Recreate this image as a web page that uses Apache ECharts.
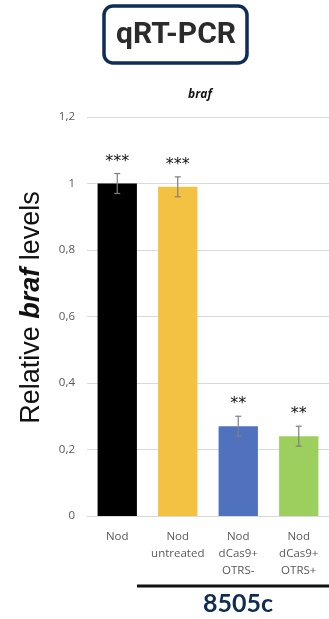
<!DOCTYPE html>
<html>
<head>
<meta charset="utf-8">
<script src="https://cdn.jsdelivr.net/npm/echarts@6/dist/echarts.min.js"></script>
<style>
  html, body { margin: 0; padding: 0; background: #fff; }
  #chart { width: 329px; height: 619px; }
</style>
</head>
<body>
<div id="chart"></div>
<script>
// Relative braf expression (qRT-PCR)
const categories = ['Nod', 'Nod\nuntreated', 'Nod\ndCas9+\nOTRS-', 'Nod\ndCas9+\nOTRS+'];
const values = [1.0, 0.99, 0.27, 0.24];
const errors = [0.03, 0.03, 0.03, 0.03];
const significance = ['***', '***', '**', '**'];
const barColors = ['#000000', '#f4c242', '#4f71be', '#9dcf5f'];
const yTicks = [0, 0.2, 0.4, 0.6, 0.8, 1, 1.2];

const chart = echarts.init(document.getElementById('chart'));

const fmt = v => String(Math.round(v * 10) / 10).replace('.', ',');

chart.setOption({
  animation: false,
  title: {
    text: 'braf',
    left: 195, top: 84,
    textAlign: 'center',
    textStyle: { fontFamily: 'Open Sans', fontStyle: 'italic', fontWeight: 'bold', fontSize: 12, color: '#111' }
  },
  grid: { left: 87, top: 117, width: 249, height: 399 },
  xAxis: {
    type: 'category',
    data: categories,
    axisLine: { lineStyle: { color: '#d9d9d9', width: 1 } },
    axisTick: { show: false },
    axisLabel: { color: '#595959', fontFamily: 'Open Sans', fontSize: 11.5, lineHeight: 17, margin: 12, interval: 0 }
  },
  yAxis: {
    type: 'value',
    min: 0, max: yTicks[yTicks.length - 1], interval: 0.2,
    axisLine: { show: false },
    axisTick: { show: false },
    splitLine: { lineStyle: { color: '#d9d9d9', width: 1 } },
    axisLabel: { color: '#595959', fontFamily: 'Open Sans', fontSize: 11.5, margin: 12, formatter: fmt },
    name: '{a|Relative }{b|braf}{a| levels}',
    nameLocation: 'middle',
    nameRotate: 90,
    nameGap: 42,
    nameTextStyle: {
      padding: [0, 0, 0, 18],
      rich: {
        a: { fontFamily: 'Liberation Sans', fontSize: 27, color: '#111' },
        b: { fontFamily: 'Liberation Sans', fontSize: 27, fontWeight: 'bold', fontStyle: 'italic', color: '#111' }
      }
    }
  },
  series: [
    {
      type: 'bar',
      barWidth: '65%',
      data: values.map((v, i) => ({ value: v, itemStyle: { color: barColors[i] } })),
      z: 2
    },
    {
      type: 'custom',
      z: 3,
      data: values.map((v, i) => [i, v - errors[i], v + errors[i]]),
      renderItem: function (params, api) {
        const x = api.value(0);
        const lo = api.coord([x, api.value(1)]);
        const hi = api.coord([x, api.value(2)]);
        const cap = 3;
        const style = { stroke: '#7f7f7f', lineWidth: 1.2 };
        return {
          type: 'group',
          children: [
            { type: 'line', shape: { x1: hi[0], y1: hi[1], x2: lo[0], y2: lo[1] }, style: style },
            { type: 'line', shape: { x1: hi[0] - cap, y1: hi[1], x2: hi[0] + cap, y2: hi[1] }, style: style },
            { type: 'line', shape: { x1: lo[0] - cap, y1: lo[1], x2: lo[0] + cap, y2: lo[1] }, style: style },
            {
              type: 'text',
              style: {
                text: significance[params.dataIndex],
                x: hi[0], y: hi[1] - 4,
                align: 'center', verticalAlign: 'bottom',
                font: '16px "DejaVu Sans"', fill: '#111'
              }
            }
          ]
        };
      }
    }
  ],
  graphic: [
    {
      type: 'rect',
      shape: { x: 104, y: 6, width: 143, height: 57, r: 9 },
      style: { fill: '#fff', stroke: '#0f2c55', lineWidth: 3.5 }
    },
    {
      type: 'text',
      style: {
        text: 'qRT-PCR', x: 176, y: 35,
        align: 'center', verticalAlign: 'middle',
        font: 'bold 30px Roboto', fill: '#2b2b2b'
      }
    },
    {
      type: 'line',
      shape: { x1: 137, y1: 586, x2: 329, y2: 586 },
      style: { stroke: '#111', lineWidth: 3 }
    },
    {
      type: 'text',
      style: {
        text: '8505c', x: 238, y: 604,
        align: 'center', verticalAlign: 'middle',
        font: 'bold 25px Lato', fill: '#0f2c55'
      }
    }
  ]
});
</script>
</body>
</html>
